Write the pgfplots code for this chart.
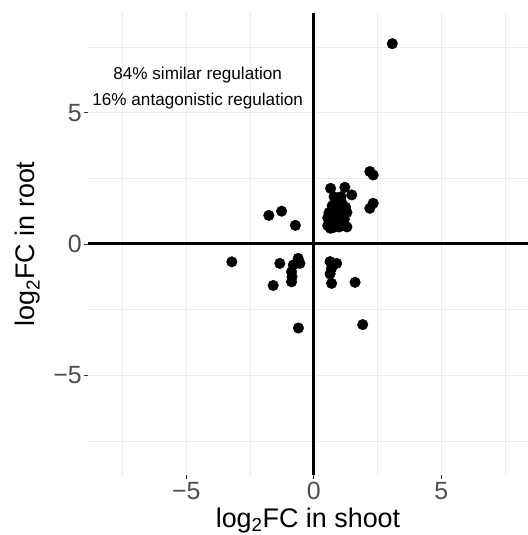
\documentclass[border=0pt]{standalone}
\usepackage{pgfplots}
\pgfplotsset{compat=1.18}
\usepackage{fontspec}
\setmainfont{Liberation Sans}
\definecolor{gridc}{HTML}{EBEBEB}
\definecolor{tickc}{HTML}{4D4D4D}
\definecolor{tickm}{HTML}{333333}
\begin{document}
\begin{tikzpicture}
\begin{axis}[
  scale only axis,
  width=440bp, height=462bp,
  xmin=-8.85, xmax=8.4, ymin=-8.8, ymax=8.8,
  axis line style={draw=none},
  xtick={-5,0,5}, xticklabels={−5,0,5},
  ytick={-5,0,5}, yticklabels={−5,0,5},
  minor xtick={-7.5,-2.5,2.5,7.5},
  minor ytick={-7.5,-2.5,2.5,7.5},
  grid=both,
  major grid style={gridc, line width=1.1bp},
  minor grid style={gridc, line width=0.6bp},
  tick align=outside,
  major tick length=4bp,
  minor tick length=0bp,
  xtick pos=bottom, ytick pos=left,
  tick style={tickm, line width=0.8bp},
  xticklabel style={font=\fontsize{25}{25}\selectfont, text=tickc, inner sep=0pt, anchor=base, yshift=-20bp},
  yticklabel style={font=\fontsize{25}{25}\selectfont, text=tickc, inner sep=0pt, anchor=east, xshift=-2bp},
  xlabel={log\textsubscript{2}FC in shoot},
  ylabel={log\textsubscript{2}FC in root},
  xlabel style={font=\fontsize{27}{27}\selectfont, inner sep=0pt, at={(axis description cs:0.5,0)}, anchor=base, yshift=-52bp},
  ylabel style={font=\fontsize{27}{27}\selectfont, inner sep=0pt, at={(axis description cs:0,0.5)}, anchor=base, yshift=53bp},
  clip=true,
]
\addplot[black, line width=3bp] coordinates {(0,-8.8) (0,8.8)};
\addplot[black, line width=3bp] coordinates {(-8.85,0) (8.4,0)};
\addplot[only marks, mark=*, mark size=5.3bp, black] coordinates {
(3.08,7.63)
(2.20,2.76) (2.33,2.63)
(2.33,1.55) (2.20,1.36)
(0.66,2.12) (1.22,2.16) (1.49,1.87) (1.07,1.80)
(0.55,1.00) (0.55,0.70) (0.60,1.20) (0.65,0.85) (0.72,1.45) (0.75,0.62)
(0.78,1.10) (0.85,1.62) (0.90,0.90) (0.95,1.35) (1.00,0.65) (1.05,1.15)
(1.20,0.95) (1.25,1.40) (1.30,0.65) (1.30,1.20) (0.65,0.60) (0.90,1.25)
(1.00,1.00) (0.80,1.80) (1.10,1.55)
(-1.76,1.09) (-1.26,1.25) (-0.72,0.71)
(-3.21,-0.68)
(-1.33,-0.74) (-0.61,-0.55) (-0.54,-0.74) (-0.80,-0.80) (-0.87,-1.06)
(-0.87,-1.44) (-0.85,-1.25) (-1.59,-1.58) (-0.60,-3.20)
(0.64,-0.67) (0.90,-0.74) (0.70,-0.93) (0.64,-1.14) (0.70,-1.50)
(1.62,-1.46) (1.92,-3.07)
};
\node[anchor=base, font=\fontsize{17.2}{17.2}\selectfont, inner sep=0pt] at (axis cs:-4.55,6.25) {84\% similar regulation};
\node[anchor=base, font=\fontsize{17.2}{17.2}\selectfont, inner sep=0pt] at (axis cs:-4.55,5.26) {16\% antagonistic regulation};
\end{axis}
\pgfresetboundingbox
\path[use as bounding box] (-88bp,-60bp) rectangle (440bp,475bp);
\end{tikzpicture}
\end{document}
